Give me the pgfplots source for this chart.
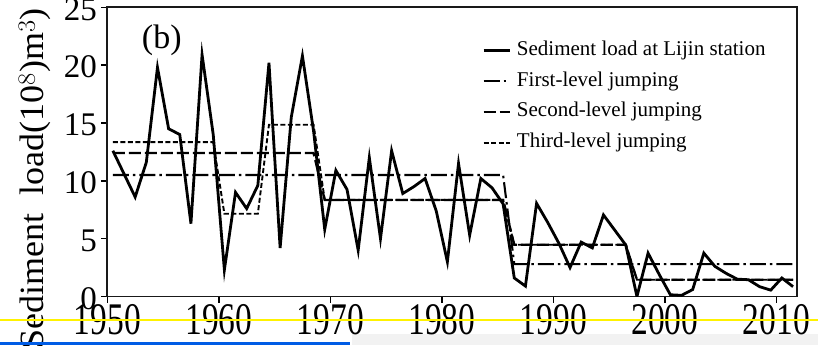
\documentclass[border=0pt]{standalone}
\usepackage{fontspec}
\setmainfont{Liberation Serif}
\usepackage{graphicx}
\usepackage{pgfplots}
\usepackage{pgfplotstable}
\pgfplotsset{compat=1.18}

% Annual sediment load at Lijin station (10^8 m^3)
\pgfplotstableread{
year load
1950 12.6
1951 10.6
1952 8.6
1953 11.6
1954 19.8
1955 14.5
1956 14.0
1957 6.3
1958 20.9
1959 14.0
1960 2.3
1961 9.0
1962 7.6
1963 9.6
1964 20.2
1965 4.2
1966 15.5
1967 20.8
1968 14.3
1969 5.8
1970 10.9
1971 9.25
1972 4.0
1973 12.0
1974 5.0
1975 12.6
1976 8.9
1977 9.5
1978 10.2
1979 7.4
1980 3.0
1981 11.5
1982 5.3
1983 10.2
1984 9.4
1985 8.0
1986 1.6
1987 0.9
1988 8.05
1989 6.4
1990 4.6
1991 2.5
1992 4.7
1993 4.2
1994 7.05
1995 5.75
1996 4.45
1997 0.0
1998 3.75
1999 1.9
2000 0.15
2001 0.1
2002 0.6
2003 3.75
2004 2.6
2005 2.0
2006 1.5
2007 1.45
2008 0.85
2009 0.55
2010 1.6
2011 0.85
}\loadtable

% Segment means of the jumping analysis (first, second and third level)
\pgfplotstableread{
year first second third
1950 10.5 12.4 13.35
1959 10.5 12.4 13.35
1960 10.5 12.4 7.15
1963 10.5 12.4 7.15
1964 10.5 12.4 14.85
1968 10.5 12.4 14.85
1969 10.5 8.35 8.35
1985 10.5 8.35 8.35
1986 2.8 4.47 4.47
1996 2.8 4.47 4.47
1997 2.8 1.45 1.45
2011 2.8 1.45 1.45
}\jumptable

\newcommand\xtl[1]{\scalebox{1}[1.35]{#1}}

\begin{document}
\begin{tikzpicture}
\useasboundingbox (0pt,0pt) rectangle (818pt,345pt);
\clip (0pt,0pt) rectangle (818pt,345pt);
\fill[black!5] (352pt,0pt) rectangle (818pt,11pt);
\begin{axis}[
  at={(107.3pt,48.5pt)}, anchor=south west,
  scale only axis, width=689.4pt, height=289.2pt,
  xmin=1949.5, xmax=2011.33, ymin=0, ymax=25,
  xtick={1949.5,1959.5,1969.5,1979.5,1989.5,1999.5,2009.5},
  xticklabels={\xtl{1950},\xtl{1960},\xtl{1970},\xtl{1980},\xtl{1990},\xtl{2000},\xtl{2010}},
  ytick={0,5,10,15,20,25},
  tick align=outside, tick pos=left,
  major tick length=6pt,
  every tick/.style={black, line width=1.4pt},
  axis line style={black!90, line width=1.7pt},
  /pgf/number format/assume math mode=true,
  xticklabel style={font=\fontsize{33.5}{34}\selectfont, anchor=north, inner sep=0pt, yshift=-1.5pt},
  yticklabel style={font=\fontsize{33}{33}\selectfont, anchor=east, inner sep=0pt, xshift=-4.3pt, yshift=-2pt},
  ylabel={\scalebox{1.06}[1]{Sediment\ \ load(10$^{8}$)m$^{3}$)}},
  ylabel style={font=\fontsize{34}{34}\selectfont, rotate=0, inner sep=0pt,
    at={(rel axis cs:-0.105,0.9976)}, anchor=east},
  legend cell align=left,
  legend style={draw=none, fill=none, at={(rel axis cs:0.5435,0.887)}, anchor=north west,
    inner sep=0pt, row sep=10.9pt, column sep=6pt,
    font=\fontsize{21}{21}\selectfont,
    nodes={inner sep=0pt, text height=15pt, text depth=5pt}},
  legend image code/.code={\draw[#1] (0pt,0pt) -- (26pt,0pt);},
]
\addplot[black, line width=2.8pt, line join=miter] table[x=year, y=load] {\loadtable};
\addlegendentry{Sediment load at Lijin station}
\addplot[black, line width=2.1pt, dash pattern=on 16pt off 4pt on 2.5pt off 4pt] table[x=year, y=first] {\jumptable};
\addlegendentry{First-level jumping}
\addplot[black, line width=2.3pt, dash pattern=on 12pt off 4pt] table[x=year, y=second] {\jumptable};
\addlegendentry{Second-level jumping}
\addplot[black, line width=1.9pt, dash pattern=on 5pt off 2.5pt] table[x=year, y=third] {\jumptable};
\addlegendentry{Third-level jumping}
\node[font=\fontsize{34}{34}\selectfont, inner sep=0pt] at (rel axis cs:0.079,0.887) {(b)};
\end{axis}
\draw[yellow, line width=2pt] (0pt,25.5pt) -- (818pt,25.5pt);
\draw[blue!60!cyan!90!black, line width=3pt] (0pt,1.5pt) -- (350pt,1.5pt);
\end{tikzpicture}
\end{document}
